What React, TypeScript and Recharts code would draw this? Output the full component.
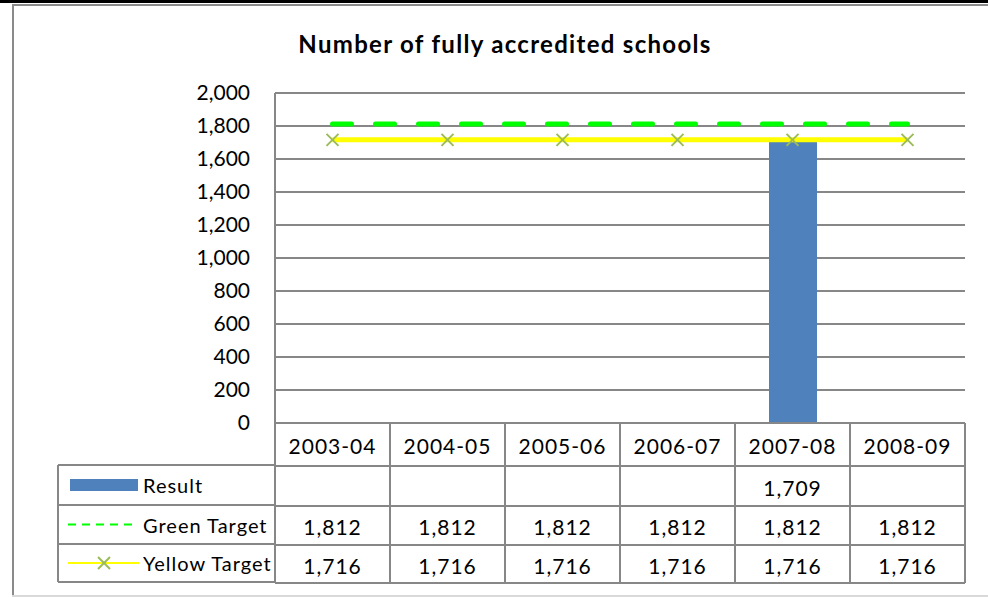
import { ComposedChart, Bar, Line, XAxis, YAxis, CartesianGrid } from "recharts"

const categories = ["2003-04", "2004-05", "2005-06", "2006-07", "2007-08", "2008-09"]
const result = [null, null, null, null, 1709, null]
const greenTarget = [1812, 1812, 1812, 1812, 1812, 1812]
const yellowTarget = [1716, 1716, 1716, 1716, 1716, 1716]
const yTicks = [0, 200, 400, 600, 800, 1000, 1200, 1400, 1600, 1800, 2000]

const seriesNames = ["Result", "Green Target", "Yellow Target"]
const rows = [result, greenTarget, yellowTarget]

const data = categories.map((c, i) => ({
  cat: c,
  result: result[i],
  green: greenTarget[i],
  yellow: yellowTarget[i],
}))

const FONT = "Lato, 'Open Sans', sans-serif"
const GRID = "#878787"
const PLOT_LEFT = 275
const PLOT_W = 690
const rowEdges = [0, 43, 83, 122, 160]

const fmt = (v: number | null) => (v == null ? "" : v.toLocaleString("en-US"))

function XMark(props: any) {
  const { cx, cy } = props
  if (cx == null) return null
  const s = 6
  return (
    <g stroke="#9bbb59" strokeWidth={2}>
      <line x1={cx - s} y1={cy - s} x2={cx + s} y2={cy + s} />
      <line x1={cx - s} y1={cy + s} x2={cx + s} y2={cy - s} />
    </g>
  )
}

function TableTick(props: any) {
  const { x, y, index, payload } = props
  const band = PLOT_W / categories.length
  const left = x - band / 2
  const right = x + band / 2
  const top = y
  const cells = [payload.value, ...rows.map((r) => fmt(r[index]))]
  return (
    <g>
      {rowEdges.map((e, k) => (
        <line key={k} x1={left} x2={right} y1={top + e} y2={top + e} stroke={GRID} strokeWidth={2} />
      ))}
      <line x1={left} x2={left} y1={top} y2={top + 160} stroke={GRID} strokeWidth={2} />
      <line x1={right} x2={right} y1={top} y2={top + 160} stroke={GRID} strokeWidth={2} />
      {cells.map((t, k) => (
        <text
          key={k}
          x={x}
          y={top + (rowEdges[k] + rowEdges[k + 1]) / 2 + 1}
          textAnchor="middle"
          dominantBaseline="central"
          fontFamily={FONT}
          fontSize={21}
          letterSpacing={1}
          fill="#000"
        >
          {t}
        </text>
      ))}
    </g>
  )
}

function LegendColumn() {
  const top = 422
  const left = 58
  const keyY = (k: number) => top + (rowEdges[k + 1] + rowEdges[k + 2]) / 2
  return (
    <svg width={988} height={597} style={{ position: "absolute", left: 0, top: 0, pointerEvents: "none" }}>
      {rowEdges.slice(1).map((e, k) => (
        <line key={k} x1={left} x2={PLOT_LEFT} y1={top + e} y2={top + e} stroke={GRID} strokeWidth={2} />
      ))}
      <line x1={left} x2={left} y1={top + 43} y2={top + 160} stroke={GRID} strokeWidth={2} />
      <rect x={70} y={keyY(0) - 6} width={68} height={12} fill="#4f81bd" />
      <line x1={68} x2={134} y1={keyY(1)} y2={keyY(1)} stroke="#00ff00" strokeWidth={2} strokeDasharray="8 6" />
      <line x1={68} x2={139} y1={keyY(2)} y2={keyY(2)} stroke="#ffff00" strokeWidth={2} />
      <XMark cx={104} cy={keyY(2)} />
      {seriesNames.map((n, k) => (
        <text
          key={n}
          x={143}
          y={keyY(k)}
          dominantBaseline="central"
          fontFamily={FONT}
          fontSize={20}
          letterSpacing={1}
          fill="#000"
        >
          {n}
        </text>
      ))}
    </svg>
  )
}

export default function App() {
  return (
    <div style={{ position: "absolute", left: 0, top: 0, width: 988, height: 597, background: "#fff" }}>
      <div style={{ position: "absolute", left: 0, top: 0, width: 988, height: 3, background: "#000" }} />
      <div style={{ position: "absolute", left: 12, top: 4, width: 976, height: 2, background: "#8a8a8a" }} />
      <div style={{ position: "absolute", left: 12, top: 4, width: 2, height: 592, background: "#8a8a8a" }} />
      <div style={{ position: "absolute", left: 12, top: 595, width: 976, height: 2, background: "#d9d9d9" }} />
      <div
        style={{
          position: "absolute",
          left: 0,
          width: 1010,
          top: 29,
          textAlign: "center",
          fontFamily: FONT,
          fontWeight: 700,
          fontSize: 24,
          letterSpacing: 1.3,
          color: "#000",
        }}
      >
        Number of fully accredited schools
      </div>
      <ComposedChart
        width={988}
        height={597}
        data={data}
        margin={{ top: 93, right: 23, bottom: 0, left: 0 }}
        style={{ position: "absolute", left: 0, top: 0 }}
      >
        <CartesianGrid horizontal vertical={false} stroke={GRID} strokeWidth={2} />
        <XAxis
          dataKey="cat"
          height={174}
          axisLine={false}
          tickLine={false}
          tickSize={0}
          tickMargin={0}
          interval={0}
          tick={<TableTick />}
        />
        <YAxis
          width={PLOT_LEFT}
          domain={[0, 2000]}
          ticks={yTicks}
          interval={0}
          axisLine={{ stroke: GRID, strokeWidth: 2 }}
          tickLine={false}
          tickSize={0}
          tickMargin={25}
          tickFormatter={(v) => fmt(v)}
          tick={{ fontFamily: FONT, fontSize: 21, fill: "#000" }}
        />
        <Bar dataKey="result" fill="#4f81bd" barSize={48} isAnimationActive={false} />
        <Line
          dataKey="green"
          stroke="#00ff00"
          strokeWidth={5}
          strokeDasharray="19 24"
          strokeLinecap="round"
          dot={false}
          isAnimationActive={false}
        />
        <Line
          dataKey="yellow"
          stroke="#ffff00"
          strokeWidth={5}
          dot={<XMark />}
          isAnimationActive={false}
        />
      </ComposedChart>
      <LegendColumn />
    </div>
  )
}
